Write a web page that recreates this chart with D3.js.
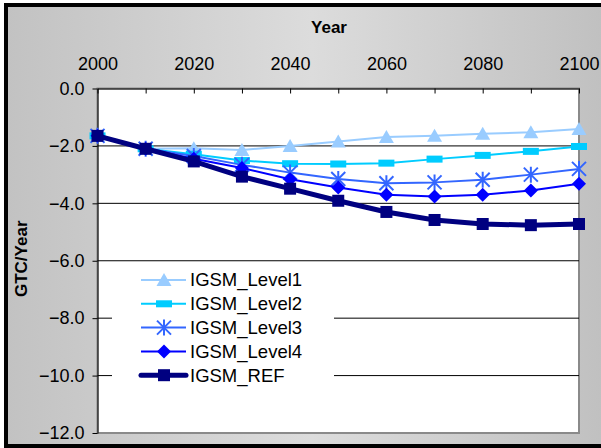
<!DOCTYPE html>
<html>
<head>
<meta charset="utf-8">
<script src="https://cdn.jsdelivr.net/npm/d3@7"></script>
<style>
  body { margin: 0; background: #fff; }
  svg { display: block; font-family: Arial, "Liberation Sans", sans-serif; }
</style>
</head>
<body>
<script>
// Data (GTC/Year)
const years = [2000, 2010, 2020, 2030, 2040, 2050, 2060, 2070, 2080, 2090, 2100];
const level1 = [-1.65, -2.1, -2.08, -2.14, -2.0, -1.85, -1.69, -1.65, -1.58, -1.52, -1.41];
const level2 = [-1.65, -2.1, -2.29, -2.51, -2.62, -2.63, -2.6, -2.46, -2.33, -2.19, -2.02];
const level3 = [-1.65, -2.1, -2.35, -2.66, -2.93, -3.15, -3.3, -3.27, -3.18, -3.0, -2.8];
const level4 = [-1.65, -2.1, -2.45, -2.77, -3.16, -3.45, -3.7, -3.76, -3.7, -3.55, -3.32];
const levelRef = [-1.65, -2.1, -2.54, -3.07, -3.49, -3.91, -4.3, -4.58, -4.72, -4.76, -4.72];
const seriesNames = ["IGSM_Level1", "IGSM_Level2", "IGSM_Level3", "IGSM_Level4", "IGSM_REF"];
const xTicks = [2000, 2020, 2040, 2060, 2080, 2100];
const yTicks = [0, -2, -4, -6, -8, -10, -12];

const series = [
  { name: seriesNames[0], values: level1, color: "#99ccff", width: 2, marker: "triangle" },
  { name: seriesNames[1], values: level2, color: "#00ccff", width: 2, marker: "dash" },
  { name: seriesNames[2], values: level3, color: "#3366ff", width: 2, marker: "star" },
  { name: seriesNames[3], values: level4, color: "#0000ff", width: 2, marker: "diamond" },
  { name: seriesNames[4], values: levelRef, color: "#000080", width: 5, marker: "square" }
];

const W = 601, H = 448;
const plot = { left: 97.5, right: 579, top: 88.5, bottom: 433 };

const svg = d3.select("body").append("svg")
  .attr("width", W)
  .attr("height", H);

// gray gradient background with black frame
const grad = svg.append("defs").append("linearGradient")
  .attr("id", "bg").attr("x1", "0%").attr("x2", "100%");
grad.append("stop").attr("offset", "0%").attr("stop-color", "#c2c2c2");
grad.append("stop").attr("offset", "50%").attr("stop-color", "#dcdcdc");
grad.append("stop").attr("offset", "100%").attr("stop-color", "#bfbfbf");

svg.append("rect")
  .attr("x", 6).attr("y", 5)
  .attr("width", W + 10).attr("height", H - 7)
  .attr("fill", "url(#bg)")
  .attr("stroke", "#000")
  .attr("stroke-width", 4);

const x = d3.scaleLinear().domain([2000, 2100]).range([plot.left, plot.right]);
const y = d3.scaleLinear().domain([-12, 0]).range([plot.bottom, plot.top]);

// plot area
svg.append("rect")
  .attr("x", plot.left).attr("y", plot.top)
  .attr("width", plot.right - plot.left).attr("height", plot.bottom - plot.top)
  .attr("fill", "#fff")
  .attr("stroke", "#8a8a8a")
  .attr("stroke-width", 2);

// gridlines
svg.append("g").selectAll("line")
  .data(yTicks.filter(d => d > -12 && d < 0))
  .join("line")
  .attr("x1", plot.left).attr("x2", plot.right)
  .attr("y1", d => y(d)).attr("y2", d => y(d))
  .attr("stroke", "#000").attr("stroke-width", 1);

// top axis (categories) with inward ticks
const xAxis = d3.axisTop(x)
  .tickValues(d3.range(2000, 2101, 10))
  .tickSizeInner(-5).tickSizeOuter(0)
  .tickFormat(d => xTicks.includes(d) ? d : "");
const gx = svg.append("g")
  .attr("transform", `translate(0,${plot.top})`)
  .call(xAxis);
gx.select(".domain").attr("stroke", "#000");
gx.selectAll(".tick line").attr("stroke", "#000");
gx.selectAll(".tick text")
  .attr("y", -19)
  .attr("font-size", 18)
  .attr("font-family", "Arial, 'Liberation Sans', sans-serif")
  .attr("fill", "#000");

// left axis
const yAxis = d3.axisLeft(y)
  .tickValues(yTicks)
  .tickSizeInner(5).tickSizeOuter(0)
  .tickFormat(d3.format(".1f"));
const gy = svg.append("g")
  .attr("transform", `translate(${plot.left},0)`)
  .call(yAxis);
gy.select(".domain").attr("stroke", "#000");
gy.selectAll(".tick line").attr("stroke", "#000");
gy.selectAll(".tick text")
  .attr("x", -13)
  .attr("font-size", 18)
  .attr("font-family", "Arial, 'Liberation Sans', sans-serif")
  .attr("fill", "#000");

// axis titles
svg.append("text")
  .attr("x", 329).attr("y", 33)
  .attr("text-anchor", "middle")
  .attr("font-size", 17).attr("font-weight", "bold")
  .text("Year");

svg.append("text")
  .attr("transform", `translate(27,${(plot.top + plot.bottom) / 2 - 2}) rotate(-90)`)
  .attr("text-anchor", "middle")
  .attr("font-size", 17).attr("font-weight", "bold")
  .text("GTC/Year");

// marker drawing
function drawMarker(g, type, color) {
  if (type === "triangle") {
    g.append("path").attr("d", "M0,-7L7.5,6L-7.5,6Z").attr("fill", color);
  } else if (type === "dash") {
    g.append("rect").attr("x", -8).attr("y", -3.5).attr("width", 16).attr("height", 7).attr("fill", color);
  } else if (type === "star") {
    g.append("path")
      .attr("d", "M-7,-7L7,7M-7,7L7,-7M0,-8L0,8")
      .attr("stroke", color).attr("stroke-width", 2).attr("fill", "none");
  } else if (type === "diamond") {
    g.append("path").attr("d", "M0,-7L7,0L0,7L-7,0Z").attr("fill", color);
  } else if (type === "square") {
    g.append("rect").attr("x", -6).attr("y", -6).attr("width", 12).attr("height", 12).attr("fill", color);
  }
}

const line = d3.line()
  .x((d, i) => x(years[i]))
  .y(d => y(d));

series.forEach(s => {
  svg.append("path")
    .datum(s.values)
    .attr("fill", "none")
    .attr("stroke", s.color)
    .attr("stroke-width", s.width)
    .attr("stroke-linejoin", "round")
    .attr("d", line);
  s.values.forEach((v, i) => {
    const g = svg.append("g").attr("transform", `translate(${x(years[i])},${y(v)})`);
    drawMarker(g, s.marker, s.color);
  });
});

// legend
const legend = svg.append("g");
legend.append("rect")
  .attr("x", 112).attr("y", 267)
  .attr("width", 222).attr("height", 124)
  .attr("fill", "#fff");

series.forEach((s, i) => {
  const ly = 280 + i * 23.8;
  legend.append("line")
    .attr("x1", 141).attr("x2", 186)
    .attr("y1", ly).attr("y2", ly)
    .attr("stroke", s.color)
    .attr("stroke-width", s.width)
    .attr("stroke-linecap", s.width > 2 ? "round" : "butt");
  const g = legend.append("g").attr("transform", `translate(164,${ly})`);
  drawMarker(g, s.marker, s.color);
  legend.append("text")
    .attr("x", 190).attr("y", ly)
    .attr("dy", "0.35em")
    .attr("font-size", 18.5)
    .text(s.name);
});
</script>
</body>
</html>
